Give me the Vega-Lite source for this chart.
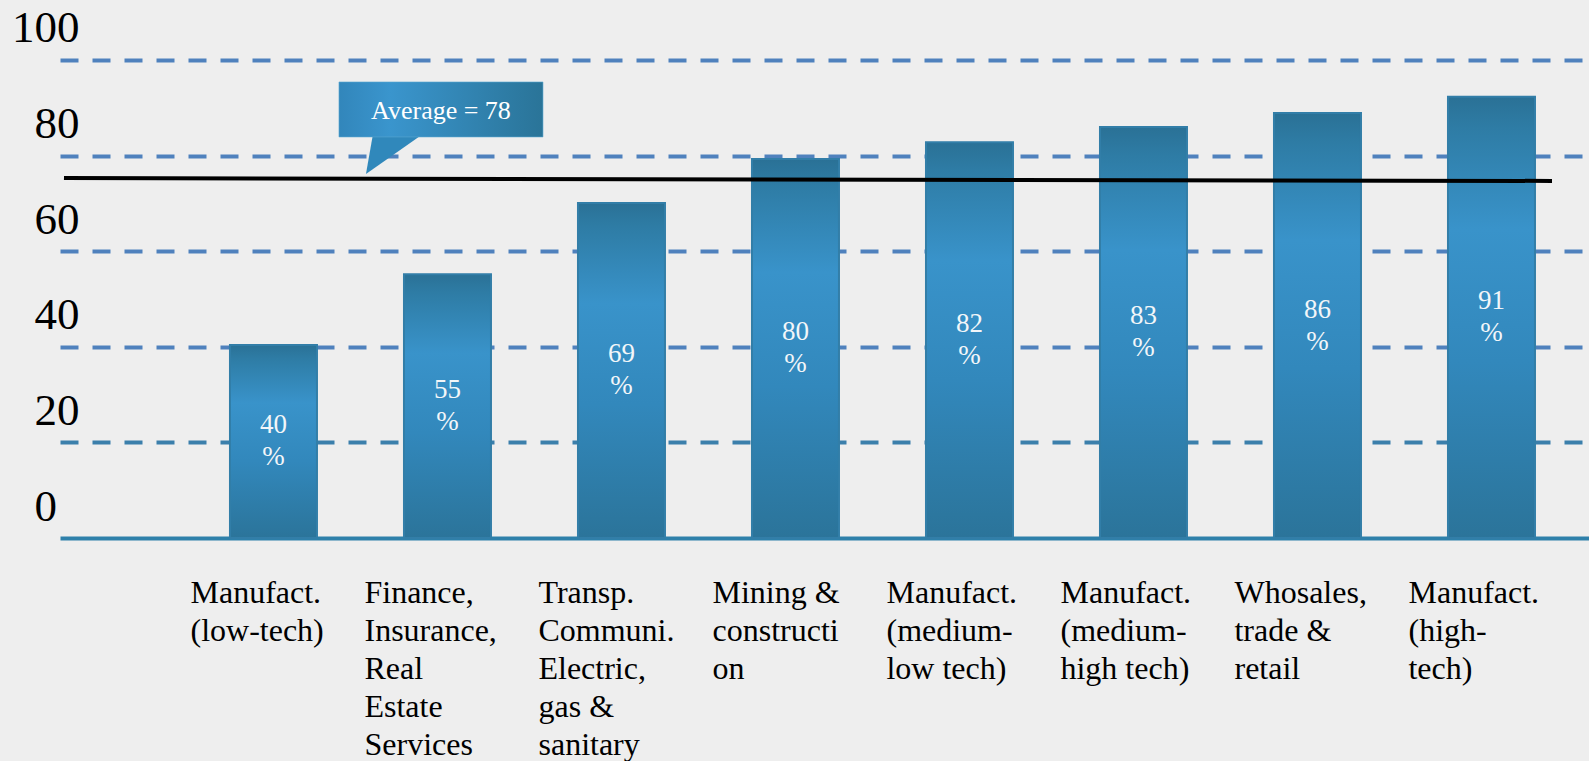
{
  "$schema": "https://vega.github.io/schema/vega-lite/v6.json",
  "width": 1529,
  "height": 538,
  "autosize": "none",
  "padding": {"left": 60, "top": 0, "right": 0, "bottom": 223},
  "background": "#eeeeee",
  "config": {"view": {"stroke": null}, "font": "Liberation Serif", "axis": {"labelFont": "Liberation Serif"}},
  "data": {
    "values": [
      {"sector": "Manufact.\n(low-tech)", "bar": 40.4, "pct": 40},
      {"sector": "Finance,\nInsurance,\nReal\nEstate\nServices", "bar": 55.2, "pct": 55},
      {"sector": "Transp.\nCommuni.\nElectric,\ngas &\nsanitary", "bar": 70.1, "pct": 69},
      {"sector": "Mining &\nconstructi\non", "bar": 79.3, "pct": 80},
      {"sector": "Manufact.\n(medium-\nlow tech)", "bar": 82.8, "pct": 82},
      {"sector": "Manufact.\n(medium-\nhigh tech)", "bar": 86.0, "pct": 83},
      {"sector": "Whosales,\ntrade &\nretail", "bar": 88.9, "pct": 86},
      {"sector": "Manufact.\n(high-\ntech)", "bar": 92.3, "pct": 91}
    ]
  },
  "resolve": {"scale": {"y": "independent"}},
  "layer": [
    {
      "mark": {
        "type": "bar",
        "width": 87,
        "fill": {
          "gradient": "linear", "x1": 0, "y1": 0, "x2": 0, "y2": 1,
          "stops": [
            {"offset": 0, "color": "#2a7196"},
            {"offset": 0.07, "color": "#2e7ca5"},
            {"offset": 0.3, "color": "#3993ca"},
            {"offset": 0.6, "color": "#3288bc"},
            {"offset": 1, "color": "#2b749a"}
          ]
        },
        "stroke": "#327ea8",
        "strokeWidth": 2
      },
      "encoding": {
        "x": {
          "field": "sector",
          "type": "nominal",
          "sort": null,
          "scale": {
            "domain": [
              "Manufact.\n(low-tech)",
              "Finance,\nInsurance,\nReal\nEstate\nServices",
              "Transp.\nCommuni.\nElectric,\ngas &\nsanitary",
              "Mining &\nconstructi\non",
              "Manufact.\n(medium-\nlow tech)",
              "Manufact.\n(medium-\nhigh tech)",
              "Whosales,\ntrade &\nretail",
              "Manufact.\n(high-\ntech)"
            ],
            "paddingInner": 0.4943,
            "paddingOuter": 0.6408,
            "align": 0.76
          },
          "axis": {
            "title": null,
            "domain": true,
            "domainColor": "#2e80aa",
            "domainWidth": 4,
            "ticks": false,
            "tickSize": 0,
            "grid": false,
            "labelAngle": 0,
            "labelAlign": "left",
            "labelBaseline": "top",
            "labelPadding": 39,
            "labelOffset": -83,
            "labelFont": "Liberation Serif",
            "labelFontSize": 32,
            "labelLineHeight": 38,
            "labelColor": "#000000",
            "labelOverlap": false,
            "labelLimit": 0,
            "labelExpr": "split(datum.label, '\\n')"
          }
        },
        "y": {
          "field": "bar",
          "type": "quantitative",
          "scale": {"domain": [0, 112.55], "nice": false},
          "axis": {
            "title": null,
            "values": [0, 20, 40, 60, 80, 100],
            "domain": false,
            "ticks": false,
            "tickSize": 0,
            "grid": true,
            "gridDash": [18, 14],
            "gridWidth": 4,
            "gridColor": {"condition": {"test": "datum.value == 20", "value": "#3b7fab"}, "value": "#4f81bd"},
            "gridOpacity": {"condition": {"test": "datum.value == 0", "value": 0}, "value": 1},
            "labelFont": "Liberation Serif",
            "labelFontSize": 45,
            "labelColor": "#000000",
            "labelAlign": "right",
            "labelBaseline": "middle",
            "labelPadding": -19,
            "labelOffset": -32,
            "labelExpr": "datum.value == 0 ? '0\u2002\u200b' : datum.label"
          }
        }
      }
    },
    {
      "mark": {"type": "text", "font": "Liberation Serif", "fontSize": 27, "fill": "#f2f6f9", "baseline": "middle", "dy": -16},
      "encoding": {
        "x": {"field": "sector", "type": "nominal", "sort": null},
        "y": {"field": "bar", "type": "quantitative", "scale": {"domain": [0, 225.1], "nice": false}, "axis": null},
        "text": {"field": "pct", "type": "quantitative"}
      }
    },
    {
      "mark": {"type": "text", "font": "Liberation Serif", "fontSize": 27, "fill": "#f2f6f9", "baseline": "middle", "dy": 16},
      "encoding": {
        "x": {"field": "sector", "type": "nominal", "sort": null},
        "y": {"field": "bar", "type": "quantitative", "scale": {"domain": [0, 225.1], "nice": false}, "axis": null},
        "text": {"value": "%"}
      }
    },
    {
      "data": {"values": [{"avg_left": 75.3, "avg_right": 74.7}]},
      "mark": {"type": "rule", "color": "#000000", "strokeWidth": 4, "xOffset": -209.5, "x2Offset": 60.5},
      "encoding": {
        "x": {"datum": "Manufact.\n(low-tech)", "type": "nominal"},
        "x2": {"datum": "Manufact.\n(high-\ntech)"},
        "y": {"field": "avg_left", "type": "quantitative", "scale": {"domain": [0, 112.55], "nice": false}, "axis": null},
        "y2": {"field": "avg_right"}
      }
    },
    {
      "data": {"values": [{"note": "Average = 78"}]},
      "mark": {
        "type": "point",
        "shape": "M -0.733 -0.7 L 0.933 -0.7 L -0.967 0.633 Z",
        "size": 3600,
        "filled": true,
        "fill": "#3088bb",
        "opacity": 1,
        "strokeWidth": 0,
        "xOffset": -52.5
      },
      "encoding": {
        "x": {"datum": "Finance,\nInsurance,\nReal\nEstate\nServices", "type": "nominal"},
        "y": {"datum": 80.13, "type": "quantitative", "scale": {"domain": [0, 112.55], "nice": false}, "axis": null}
      }
    },
    {
      "data": {"values": [{"note": "Average = 78"}]},
      "mark": {
        "type": "bar",
        "width": 204,
        "xOffset": -6.5,
        "fill": {
          "gradient": "linear", "x1": 0, "y1": 0, "x2": 1, "y2": 0,
          "stops": [
            {"offset": 0, "color": "#3286bb"},
            {"offset": 0.25, "color": "#3a95cd"},
            {"offset": 1, "color": "#2a7498"}
          ]
        },
        "stroke": "#5aa6d2",
        "strokeWidth": 1,
        "strokeOpacity": 0.6
      },
      "encoding": {
        "x": {"datum": "Finance,\nInsurance,\nReal\nEstate\nServices", "type": "nominal"},
        "y": {"datum": 95.4, "type": "quantitative", "scale": {"domain": [0, 112.55], "nice": false}, "axis": null},
        "y2": {"datum": 83.9}
      }
    },
    {
      "data": {"values": [{"note": "Average = 78"}]},
      "mark": {"type": "text", "font": "Liberation Serif", "fontSize": 26, "fill": "#ffffff", "baseline": "middle", "xOffset": -6.5},
      "encoding": {
        "x": {"datum": "Finance,\nInsurance,\nReal\nEstate\nServices", "type": "nominal"},
        "y": {"datum": 89.4, "type": "quantitative", "scale": {"domain": [0, 112.55], "nice": false}, "axis": null},
        "text": {"field": "note", "type": "nominal"}
      }
    }
  ]
}
